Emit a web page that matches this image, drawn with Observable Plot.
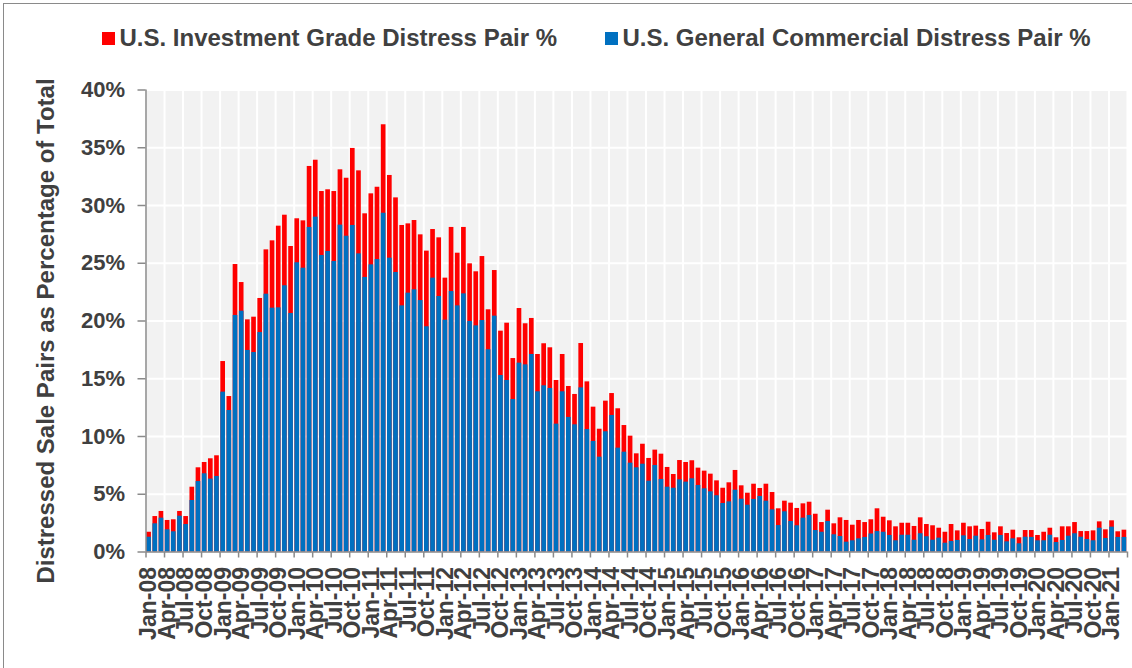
<!DOCTYPE html>
<html>
<head>
<meta charset="utf-8">
<script src="https://cdn.jsdelivr.net/npm/d3@7"></script>
<script src="https://cdn.jsdelivr.net/npm/@observablehq/plot@0.6"></script>
<style>
  html, body { margin: 0; padding: 0; background: #fff; width: 1132px; height: 668px; overflow: hidden; }
  body { position: relative; font-family: "Liberation Sans", Arial, sans-serif; }
  #border { position: absolute; left: 3px; top: 3px; width: 1200px; height: 800px; border: 1.5px solid #8a8a8a; pointer-events: none; }
  #legend { position: relative; height: 70px; }
  .sw { position: absolute; width: 13px; height: 13px; top: 31.5px; }
  .lt { position: absolute; top: 25.5px; font-size: 24px; line-height: 24px; font-weight: bold; color: #404040; white-space: nowrap; }
  #chart svg { display: block; overflow: visible; }
</style>
</head>
<body>
<div id="legend"></div>
<div id="chart"></div>
<div id="border"></div>
<script>
// ---- data ----
const seriesNames = ["U.S. Investment Grade Distress Pair %", "U.S. General Commercial Distress Pair %"];
const seriesColors = ["#ff0000", "#0070c0"];
const yTitle = "Distressed Sale Pairs as Percentage of Total";
const yTicks = [0, 5, 10, 15, 20, 25, 30, 35, 40];

const monthNames = ["Jan","Feb","Mar","Apr","May","Jun","Jul","Aug","Sep","Oct","Nov","Dec"];
const years = ["08","09","10","11","12","13","14","15","16","17","18","19","20","21"];
const months = [];
for (const yy of years) for (const mm of monthNames) months.push(mm + "-" + yy);
months.length = 159; // Jan-08 .. Mar-21

const tickLabels = [
  "Jan-08","Apr-08","Jul-08","Oct-08","Jan-09","Apr-09","Jul-09","Oct-09",
  "Jan-10","Apr-10","Jul-10","Oct-10","Jan-11","Apr-11","Jul-11","Oct-11",
  "Jan-12","Apr-12","Jul-12","Oct-12","Jan-13","Apr-13","Jul-13","Oct-13",
  "Jan-14","Apr-14","Jul-14","Oct-14","Jan-15","Apr-15","Jul-15","Oct-15",
  "Jan-16","Apr-16","Jul-16","Oct-16","Jan-17","Apr-17","Jul-17","Oct-17",
  "Jan-18","Apr-18","Jul-18","Oct-18","Jan-19","Apr-19","Jul-19","Oct-19",
  "Jan-20","Apr-20","Jul-20","Oct-20","Jan-21"
];

// U.S. Investment Grade Distress Pair % (red)
const investmentGrade = [
  1.71, 3.07, 3.51, 2.73, 2.79, 3.51, 3.07, 5.61, 7.29, 7.75, 8.07, 8.33,
  16.49, 13.46, 24.89, 23.33, 20.10, 20.33, 21.95, 26.16, 26.94, 28.21, 29.16, 26.45,
  28.85, 28.67, 33.38, 33.92, 31.21, 31.36, 31.21, 33.09, 32.36, 34.94, 33.00, 29.28,
  31.01, 31.58, 36.99, 32.60, 30.66, 28.27, 28.41, 28.70, 27.46, 26.05, 27.92, 27.20,
  23.71, 28.10, 25.87, 28.10, 24.95, 24.26, 25.58, 20.97, 24.37, 19.12, 19.81, 16.75,
  21.08, 19.76, 20.22, 17.10, 18.03, 17.68, 14.85, 17.10, 14.33, 13.64, 18.05, 14.73,
  12.54, 10.63, 13.06, 13.72, 12.40, 10.95, 10.03, 8.50, 9.33, 8.10, 8.82, 8.47,
  7.32, 6.71, 7.92, 7.75, 7.90, 7.26, 7.00, 6.74, 6.16, 5.52, 5.99, 7.06,
  5.73, 5.09, 5.87, 5.50, 5.87, 5.15, 3.74, 4.40, 4.23, 3.77, 4.17, 4.31,
  3.27, 2.55, 3.62, 2.44, 2.96, 2.73, 2.32, 2.73, 2.55, 2.79, 3.74, 3.01,
  2.70, 2.18, 2.49, 2.49, 2.21, 2.96, 2.38, 2.27, 2.06, 1.71, 2.38, 1.83,
  2.49, 2.18, 2.24, 1.95, 2.58, 1.66, 2.18, 1.60, 1.89, 1.23, 1.86, 1.86,
  1.43, 1.71, 2.06, 1.23, 2.18, 2.18, 2.55, 1.77, 1.77, 1.83, 2.61, 1.92,
  2.70, 1.75, 1.89
];

// U.S. General Commercial Distress Pair % (blue)
const generalCommercial = [
  1.28, 2.44, 2.93, 1.92, 1.75, 3.10, 2.38, 4.46, 6.10, 6.77, 6.31, 6.54,
  13.84, 12.25, 20.48, 20.85, 17.45, 17.27, 19.00, 22.32, 21.11, 21.14, 23.05, 20.65,
  25.04, 24.57, 28.10, 28.99, 25.67, 26.02, 25.15, 28.30, 27.34, 28.27, 25.81, 23.77,
  24.86, 25.32, 29.33, 25.44, 24.20, 21.31, 22.41, 22.70, 21.77, 19.50, 23.71, 22.12,
  20.07, 22.55, 21.31, 22.35, 19.96, 19.58, 20.04, 17.51, 20.42, 15.28, 14.85, 13.20,
  16.35, 16.20, 17.10, 13.87, 14.39, 14.16, 11.07, 13.87, 11.65, 11.01, 14.21, 10.60,
  9.57, 8.21, 10.41, 11.82, 8.99, 8.64, 7.69, 7.29, 7.60, 6.13, 7.49, 6.28,
  5.61, 5.52, 6.25, 6.05, 6.34, 5.76, 5.47, 5.21, 4.87, 4.20, 4.34, 5.35,
  4.57, 4.05, 4.55, 4.81, 4.40, 3.65, 2.29, 3.48, 2.64, 2.27, 2.93, 3.16,
  1.86, 1.71, 2.64, 1.49, 1.34, 0.85, 0.97, 1.14, 1.26, 1.56, 1.77, 1.71,
  1.43, 0.97, 1.45, 1.45, 1.02, 1.58, 1.32, 1.02, 1.20, 0.76, 0.91, 1.00,
  1.40, 1.08, 1.37, 1.05, 1.43, 1.02, 1.43, 0.88, 1.14, 0.71, 1.28, 1.26,
  0.97, 0.97, 1.45, 0.82, 1.00, 1.37, 1.58, 1.28, 1.08, 0.97, 2.06, 1.17,
  2.15, 1.26, 1.26
];

// ---- legend ----
const legend = document.getElementById("legend");
const legendLeft = [101.5, 604.5];
seriesNames.forEach((name, k) => {
  const sw = document.createElement("div");
  sw.className = "sw";
  sw.style.left = legendLeft[k] + "px";
  sw.style.background = seriesColors[k];
  legend.appendChild(sw);
  const t = document.createElement("div");
  t.className = "lt";
  t.style.left = (legendLeft[k] + 18) + "px";
  t.textContent = name;
  legend.appendChild(t);
});

// ---- chart ----
const data = months.map((m, i) => ({i, month: m, ig: investmentGrade[i], gc: generalCommercial[i]}));
const boundaries = d3.range(0, months.length + 1, 3);
const labelPos = tickLabels.map(t => months.indexOf(t) + 0.5);
const font = "'Liberation Sans', Arial, sans-serif";

const chart = Plot.plot({
  width: 1132,
  height: 598,
  marginTop: 19.5,
  marginBottom: 116.5,
  marginLeft: 145.5,
  marginRight: 5,
  style: {fontFamily: font, fontWeight: "bold", color: "#404040", background: "transparent", overflow: "visible"},
  x: {type: "linear", domain: [0, months.length]},
  y: {domain: [0, 40]},
  marks: [
    Plot.frame({fill: "#f2f2f2", stroke: null}),
    Plot.gridY(yTicks, {stroke: "#ffffff", strokeOpacity: 1, strokeWidth: 2}),
    Plot.gridX(boundaries, {stroke: "#ffffff", strokeOpacity: 1, strokeWidth: 2}),
    Plot.rectY(data, {x1: "i", x2: d => d.i + 1, y1: 0, y2: "ig", fill: seriesColors[0], insetLeft: 0.75, insetRight: 0.75}),
    Plot.rectY(data, {x1: "i", x2: d => d.i + 1, y1: 0, y2: "gc", fill: seriesColors[1], insetLeft: 0.75, insetRight: 0.75}),
    Plot.ruleX([0], {stroke: "#8a8a8a", strokeWidth: 1.5}),
    Plot.ruleY([0], {stroke: "#8a8a8a", strokeWidth: 1.5}),
    Plot.axisY({ticks: yTicks, tickFormat: d => d + "%", tickSize: 8, tickPadding: 13, stroke: "#8a8a8a", strokeWidth: 1.5, fontSize: 22, fontWeight: "bold", fill: "#404040", label: null}),
    Plot.axisX({ticks: boundaries, tickFormat: () => "", tickSize: 6, stroke: "#8a8a8a", strokeWidth: 1.5, label: null}),
    Plot.axisX({ticks: labelPos, tickFormat: p => months[Math.floor(p)], tickSize: 0, tickPadding: 15, tickRotate: -90, fontSize: 23, fontWeight: "bold", fill: "#404040", label: null}),
    Plot.text([yTitle], {frameAnchor: "left", textAnchor: "middle", dx: -99.5, dy: 10, rotate: -90, fontSize: 24, fontWeight: "bold", fill: "#404040"})
  ]
});
document.getElementById("chart").appendChild(chart);
</script>
</body>
</html>
